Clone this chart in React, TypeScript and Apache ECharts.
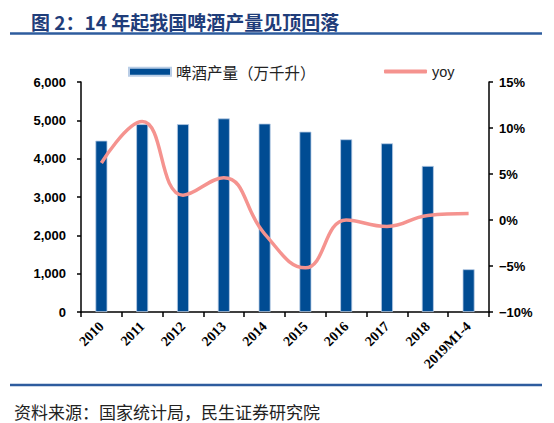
import React, { useEffect, useRef } from "react";
import * as echarts from "echarts";

const categories = ["2010", "2011", "2012", "2013", "2014", "2015", "2016", "2017", "2018", "2019M1-4"];
const beerOutput = [4470, 4900, 4900, 5050, 4915, 4705, 4505, 4400, 3810, 1115];
const yoyPct = [6.2, 10.7, 2.7, 4.6, -1.5, -5.2, 0.0, -0.7, 0.5, 0.7];
const seriesNames = ["啤酒产量（万千升）", "yoy"];
const titleText = "图 2：14 年起我国啤酒产量见顶回落";
const sourceText = "资料来源：国家统计局，民生证券研究院";

const BLUE = "#004C93";
const PINK = "#F5938F";
const CJK = "'Noto Sans CJK SC', sans-serif";

export default function App() {
  const ref = useRef<HTMLDivElement>(null);
  useEffect(() => {
    if (!ref.current) return;
    const chart = echarts.init(ref.current, null, { renderer: "svg" });
    chart.setOption({
      animation: false,
      backgroundColor: "#fff",
      grid: { left: 81, right: 65, top: 82, bottom: 111, containLabel: false },
      legend: [
        {
          data: [seriesNames[0]],
          left: 123,
          top: 59,
          itemWidth: 42,
          itemHeight: 8,
          itemGap: 5,
          icon: "rect",
          textStyle: { fontFamily: CJK, fontSize: 15.5, color: "#222" },
        },
        {
          data: [seriesNames[1]],
          left: 379,
          top: 59,
          itemWidth: 43,
          itemHeight: 4,
          icon: "roundRect",
          textStyle: { fontFamily: "'Liberation Sans', Arial, sans-serif", fontSize: 14.5, color: "#222" },
        },
      ],
      xAxis: {
        type: "category",
        data: categories,
        boundaryGap: true,
        axisLine: { lineStyle: { color: "#000", width: 1.5 } },
        axisTick: { show: true, length: 5, lineStyle: { color: "#000", width: 1.5 } },
        axisLabel: {
          rotate: 45,
          interval: 0,
          margin: 12,
          fontFamily: "'Liberation Serif', 'Times New Roman', serif",
          fontWeight: "bold",
          fontSize: 14,
          color: "#000",
        },
      },
      yAxis: [
        {
          type: "value",
          min: 0,
          max: 6000,
          interval: 1000,
          axisLine: { show: true, lineStyle: { color: "#000", width: 1.5 } },
          axisTick: { show: true, length: 4, lineStyle: { color: "#000", width: 1.5 } },
          splitLine: { show: false },
          axisLabel: {
            margin: 15,
            fontFamily: "'Liberation Sans', Arial, sans-serif",
            fontWeight: "bold",
            fontSize: 13,
            color: "#000",
            formatter: (v: number) => v.toLocaleString("en-US"),
          },
        },
        {
          type: "value",
          min: -10,
          max: 15,
          interval: 5,
          position: "right",
          axisLine: { show: true, lineStyle: { color: "#000", width: 1.5 } },
          axisTick: { show: true, length: 4, lineStyle: { color: "#000", width: 1.5 } },
          splitLine: { show: false },
          axisLabel: {
            margin: 10,
            fontFamily: "'Liberation Sans', Arial, sans-serif",
            fontWeight: "bold",
            fontSize: 13,
            color: "#000",
            formatter: (v: number) => (v < 0 ? "\u2212" + Math.abs(v) : String(v)) + "%",
          },
        },
      ],
      series: [
        {
          name: seriesNames[0],
          type: "bar",
          data: beerOutput,
          yAxisIndex: 0,
          barWidth: 12,
          itemStyle: { color: BLUE, borderColor: "#B9CDE6", borderWidth: 0.8 },
        },
        {
          name: seriesNames[1],
          type: "line",
          data: yoyPct,
          yAxisIndex: 1,
          smooth: 0.45,
          symbol: "none",
          lineStyle: { color: PINK, width: 3.5 },
          itemStyle: { color: PINK },
          z: 5,
        },
      ],
      graphic: [
        {
          type: "text",
          x: 31,
          y: 21,
          style: {
            text: titleText,
            fill: "#1F3D7A",
            fontSize: 19,
            fontWeight: "bold",
            fontFamily: CJK,
            verticalAlign: "middle",
          },
        },
        {
          type: "line",
          shape: { x1: 10, y1: 33.5, x2: 542, y2: 33.5 },
          style: { stroke: "#2E5C9E", lineWidth: 2.5 },
        },
        {
          type: "line",
          shape: { x1: 10, y1: 385, x2: 542, y2: 385 },
          style: { stroke: "#2E5C9E", lineWidth: 2.5 },
        },
        {
          type: "text",
          x: 14,
          y: 403,
          style: {
            text: sourceText,
            fill: "#222",
            fontSize: 17,
            fontFamily: CJK,
            verticalAlign: "top",
          },
        },
      ],
    });
    return () => chart.dispose();
  }, []);
  return (
    <div
      ref={ref}
      style={{ position: "absolute", left: 0, top: 0, width: 554, height: 423 }}
    />
  );
}
